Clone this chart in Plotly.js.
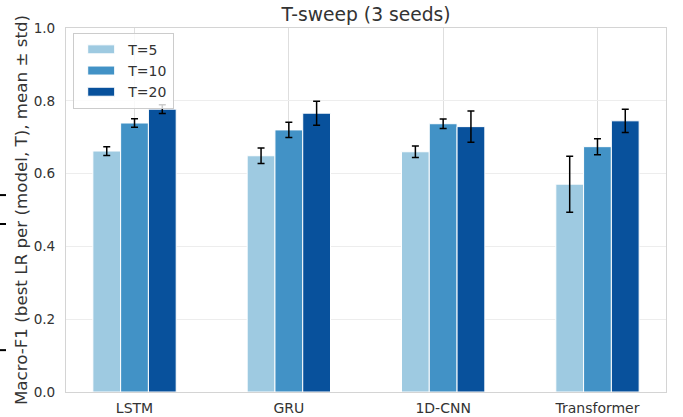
<!DOCTYPE html>
<html>
<head>
<meta charset="utf-8">
<script src="https://cdn.plot.ly/plotly-3.0.1.min.js"></script>
<style>html,body{margin:0;padding:0;background:#fff;}#chart{width:683px;height:417px;}</style>
</head>
<body>
<div id="chart"></div>
<script>
const models = ["LSTM", "GRU", "1D-CNN", "Transformer"];
const seriesNames = ["T=5", "T=10", "T=20"];
const meanT5 = [0.662, 0.649, 0.660, 0.571];
const stdT5 = [0.012, 0.021, 0.016, 0.077];
const meanT10 = [0.739, 0.720, 0.737, 0.674];
const stdT10 = [0.012, 0.021, 0.013, 0.022];
const meanT20 = [0.777, 0.766, 0.729, 0.745];
const stdT20 = [0.012, 0.033, 0.043, 0.032];
const yTickVals = [0, 0.2, 0.4, 0.6, 0.8, 1.0];
const yTickText = ["0.0", "0.2", "0.4", "0.6", "0.8", "1.0"];
const colors = ["#9ecae1", "#4292c6", "#08519c"];

const means = [meanT5, meanT10, meanT20];
const stds = [stdT5, stdT10, stdT20];

const traces = seriesNames.map((name, i) => ({
  type: "bar",
  name: name,
  x: models,
  y: means[i],
  marker: {color: colors[i], line: {color: "#ffffff", width: 1}},
  error_y: {type: "data", array: stds[i], visible: true, color: "#000000", thickness: 1.5, width: 3.5}
}));

const layout = {
  width: 683, height: 417,
  margin: {l: 66, r: 17, t: 28, b: 25},
  paper_bgcolor: "#ffffff", plot_bgcolor: "#ffffff",
  font: {family: "DejaVu Sans", size: 14, color: "#333333"},
  title: {text: "T-sweep (3 seeds)", font: {family: "DejaVu Sans", size: 18.7, color: "#333333"}, x: 0.536, xanchor: "center", y: 0.966, yanchor: "middle"},
  barmode: "group",
  bargap: 0.46,
  bargroupgap: 0,
  xaxis: {
    type: "category",
    range: [-0.444, 3.444],
    showgrid: true, gridcolor: "#dedede", gridwidth: 1,
    showline: true, linecolor: "#d4d4d4", linewidth: 1, mirror: true,
    ticks: "", tickfont: {size: 14, color: "#333333"},
    ticklabelstandoff: 3,
    zeroline: false
  },
  yaxis: {
    range: [0, 1.0],
    tickvals: yTickVals,
    ticktext: yTickText,
    showgrid: true, gridcolor: "#ededed", gridwidth: 1,
    showline: true, linecolor: "#d4d4d4", linewidth: 1, mirror: true,
    ticks: "", tickfont: {size: 13.6, color: "#333333"},
    ticklabelstandoff: 7,
    zeroline: false,
    title: {text: "Macro-F1 (best LR per (model, T), mean ± std)", font: {size: 16.7, color: "#333333"}, standoff: 1}
  },
  legend: {
    x: 0.012, y: 0.987, xanchor: "left", yanchor: "top",
    bgcolor: "rgba(255,255,255,0.8)", bordercolor: "#cccccc", borderwidth: 1,
    font: {size: 14, color: "#333333"},
    itemwidth: 44,
    tracegroupgap: 0
  },
  shapes: [
    {type: "line", xref: "paper", yref: "paper", x0: -0.11, x1: -0.1, y0: 0.541, y1: 0.541, line: {color: "#000", width: 2}},
    {type: "line", xref: "paper", yref: "paper", x0: -0.11, x1: -0.1, y0: 0.4615, y1: 0.4615, line: {color: "#000", width: 2}},
    {type: "line", xref: "paper", yref: "paper", x0: -0.11, x1: -0.1, y0: 0.115, y1: 0.115, line: {color: "#000", width: 2}}
  ],
  showlegend: true
};

Plotly.newPlot("chart", traces, layout, {displayModeBar: false, staticPlot: true}).then(function (gd) {
  gd.querySelectorAll(".legend .legendpoints path").forEach(function (p) {
    p.setAttribute("d", "M13.5,4.5H-13.5V-4.5H13.5Z");
  });
});
</script>
</body>
</html>
